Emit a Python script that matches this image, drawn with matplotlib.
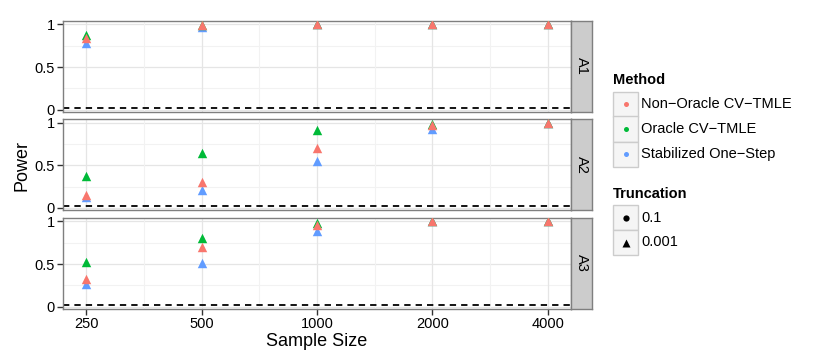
import numpy as np
import matplotlib.pyplot as plt
from matplotlib.patches import Rectangle
from matplotlib.lines import Line2D

plt.rcParams['font.family'] = ['Liberation Sans', 'DejaVu Sans']

sample_sizes = [250, 500, 1000, 2000, 4000]
panels = ['A1', 'A2', 'A3']
methods = ['Non-Oracle CV-TMLE', 'Oracle CV-TMLE', 'Stabilized One-Step']
colors = {'Non-Oracle CV-TMLE': '#F8766D', 'Oracle CV-TMLE': '#00BA38',
          'Stabilized One-Step': '#619CFF'}

# power, truncation 0.001 (triangles); the 0.1 circles sit underneath
power_001 = {
    'A1': {'Non-Oracle CV-TMLE': [0.84, 0.99, 1.0, 1.0, 1.0],
           'Oracle CV-TMLE': [0.88, 0.99, 1.0, 1.0, 1.0],
           'Stabilized One-Step': [0.78, 0.97, 1.0, 1.0, 1.0]},
    'A2': {'Non-Oracle CV-TMLE': [0.15, 0.31, 0.70, 0.97, 1.0],
           'Oracle CV-TMLE': [0.38, 0.64, 0.91, 0.99, 1.0],
           'Stabilized One-Step': [0.13, 0.21, 0.55, 0.93, 1.0]},
    'A3': {'Non-Oracle CV-TMLE': [0.32, 0.70, 0.96, 1.0, 1.0],
           'Oracle CV-TMLE': [0.53, 0.81, 0.98, 1.0, 1.0],
           'Stabilized One-Step': [0.27, 0.51, 0.89, 1.0, 1.0]},
}
power_01 = power_001
alpha_level = 0.025

W, H = 830, 363
fig = plt.figure(figsize=(W / 100, H / 100), dpi=100)

left, right = 63, 571
strip_w = 21
panel_y = [(20.5, 112), (119, 210), (217.5, 309)]

def fx(px):
    return px / W

def fy(py):
    return 1 - py / H

border = '#7f7f7f'
for k, (name, (top, bot)) in enumerate(zip(panels, panel_y)):
    ax = fig.add_axes([fx(left), fy(bot), fx(right - left), (bot - top) / H])
    ax.set_xscale('log', base=2)
    ax.set_xlim(250 / 2 ** 0.2, 4000 * 2 ** 0.2)
    ax.set_ylim(-0.025, 1.045)
    ax.set_facecolor('white')
    # grid
    for y in [0.25, 0.75]:
        ax.axhline(y, color='#f2f2f2', lw=0.8, zorder=0)
    for y in [0, 0.5, 1]:
        ax.axhline(y, color='#e5e5e5', lw=0.9, zorder=0)
    for i in range(len(sample_sizes) - 1):
        ax.axvline(np.sqrt(sample_sizes[i] * sample_sizes[i + 1]), color='#f2f2f2', lw=0.8, zorder=0)
    for x in sample_sizes:
        ax.axvline(x, color='#e5e5e5', lw=0.9, zorder=0)
    ax.axhline(alpha_level, color='black', lw=1.3, ls=(0, (3.5, 2.8)), zorder=1)
    for m in ['Stabilized One-Step', 'Oracle CV-TMLE', 'Non-Oracle CV-TMLE']:
        ax.scatter(sample_sizes, power_01[name][m], marker='o', s=6, color=colors[m], lw=0, zorder=2)
    for m in ['Stabilized One-Step', 'Oracle CV-TMLE', 'Non-Oracle CV-TMLE']:
        ax.scatter(sample_sizes, power_001[name][m], marker='^', s=46, color=colors[m], lw=0, zorder=3)
    for s in ax.spines.values():
        s.set_color(border)
        s.set_linewidth(1.0)
    ax.set_yticks([0, 0.5, 1])
    ax.set_yticklabels(['0', '0.5', '1'])
    ax.set_xticks(sample_sizes)
    ax.minorticks_off()
    ax.tick_params(axis='both', length=4, width=1, color='#333333', labelsize=10.5,
                   labelcolor='black', pad=2)
    if k < 2:
        ax.tick_params(axis='x', bottom=False, labelbottom=False)
    else:
        ax.set_xticklabels([str(s) for s in sample_sizes])
    # strip
    sax = fig.add_axes([fx(right), fy(bot), fx(strip_w), (bot - top) / H])
    sax.set_facecolor('#cccccc')
    sax.set_xticks([])
    sax.set_yticks([])
    for s in sax.spines.values():
        s.set_color(border)
        s.set_linewidth(1.0)
    sax.text(0.5, 0.5, name, rotation=-90, ha='center', va='center', fontsize=10.5,
             transform=sax.transAxes)

fig.text(fx(22), fy(165), 'Power', rotation=90, ha='center', va='center', fontsize=13)
fig.text(fx(317), fy(341), 'Sample Size', ha='center', va='center', fontsize=13)

# legends
lx = 613
key = 25
fig.text(fx(lx), fy(80), 'Method', ha='left', va='center', fontsize=10.5, fontweight='bold')
for i, m in enumerate(methods):
    y0 = 91.5 + i * key
    fig.patches.append(Rectangle((fx(lx), fy(y0 + key)), fx(key), key / H,
                                 transform=fig.transFigure, facecolor='#f5f5f5',
                                 edgecolor='#cccccc', lw=1))
    fig.lines.append(Line2D([fx(lx + key / 2)], [fy(y0 + key / 2)], marker='o', ms=3.6,
                            color=colors[m], mec='none', transform=fig.transFigure))
    fig.text(fx(lx + key + 3), fy(y0 + key / 2), m.replace('-', '\u2212'), ha='left',
             va='center', fontsize=10.5)

fig.text(fx(lx), fy(194), 'Truncation', ha='left', va='center', fontsize=10.5, fontweight='bold')
for i, (lab, mk) in enumerate([('0.1', 'o'), ('0.001', '^')]):
    y0 = 205 + i * key
    fig.patches.append(Rectangle((fx(lx), fy(y0 + key)), fx(key), key / H,
                                 transform=fig.transFigure, facecolor='#f5f5f5',
                                 edgecolor='#cccccc', lw=1))
    fig.lines.append(Line2D([fx(lx + key / 2)], [fy(y0 + key / 2)], marker=mk,
                            ms=4.5 if mk == 'o' else 6, color='black', mec='none',
                            transform=fig.transFigure))
    fig.text(fx(lx + key + 3), fy(y0 + key / 2), lab, ha='left', va='center', fontsize=10.5)

fig.savefig('out.png', dpi=100)
